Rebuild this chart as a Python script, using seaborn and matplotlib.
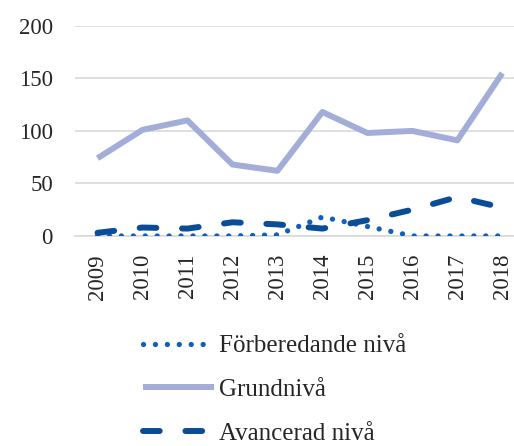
import pandas as pd
import matplotlib
matplotlib.use("Agg")
import matplotlib.pyplot as plt
import seaborn as sns

years = ["2009", "2010", "2011", "2012", "2013", "2014", "2015", "2016", "2017", "2018"]
forberedande = [0, 0, 0, 0, 1, 18, 9, 0, 0, 0]
grundniva = [74, 101, 110, 68, 62, 118, 98, 100, 91, 155]
avancerad = [3, 8, 7, 13, 11, 7, 15, 25, 37, 27]

series = ["Förberedande nivå", "Grundnivå", "Avancerad nivå"]
colors = ["#0F5FBF", "#A3AED8", "#0A4C97"]

sns.set_style("white")
plt.rcParams['font.family'] = ['Liberation Serif', 'DejaVu Serif']

fig = plt.figure(figsize=(5.14, 4.46), dpi=100)
ax = fig.add_axes([0.146, 0.471, 0.875, 0.471])

for name, vals, col in zip(series, [forberedande, grundniva, avancerad], colors):
    sns.lineplot(x=years, y=vals, ax=ax, color=col, legend=False, label=name)

lines = ax.get_lines()
# dotted
lines[0].set_linewidth(3.8)
lines[0].set_dashes((0.01, 2.25))
lines[0].set_dash_capstyle("round")
# solid
lines[1].set_linewidth(4.3)
lines[1].set_solid_capstyle("butt")
# dashed
lines[2].set_linewidth(4.3)
lines[2].set_dashes((2.8, 4.3))
lines[2].set_dash_capstyle("round")

lines[1].set_zorder(2)
lines[0].set_zorder(3)
lines[2].set_zorder(4)

ax.set_ylim(0, 200)
ax.set_xlim(-0.5, 9.5)
ax.set_yticks([0, 50, 100, 150, 200])
ax.yaxis.grid(True, color="#D9D9D9", linewidth=1.2)
ax.set_axisbelow(True)
for s in ["top", "right", "left"]:
    ax.spines[s].set_visible(False)
ax.spines["bottom"].set_color("#D9D9D9")
ax.spines["bottom"].set_linewidth(1.2)

ax.set_xticks(range(len(years)))
ax.set_xticklabels(years, rotation=90, fontsize=16.5)
ax.set_xticks([i - 0.5 for i in range(len(years) + 1)], minor=True)
ax.tick_params(axis="x", which="major", length=0, pad=13)
ax.tick_params(axis="x", which="minor", length=10, color="#D9D9D9", width=1.2)
ax.tick_params(axis="y", length=0, labelsize=16.5, pad=16)
ax.set_xlabel("")
ax.set_ylabel("")

fig.legend(handles=lines, labels=series, loc="center", bbox_to_anchor=(0.535, 0.126),
           frameon=False, fontsize=18, ncol=1, handlelength=2.85,
           handletextpad=0.2, labelspacing=0.85)

fig.savefig("out.png", dpi=100)
